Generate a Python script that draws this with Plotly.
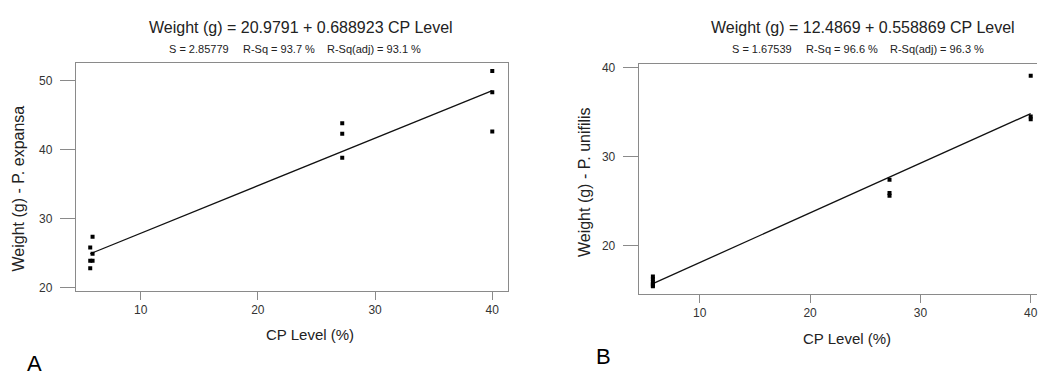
import plotly.graph_objects as go

# ---------------- data ----------------
# Panel A: P. expansa
cp_a = [5.9, 5.7, 5.9, 5.7, 5.9, 5.7, 27.2, 27.2, 27.2, 40.0, 40.0, 40.0]
wt_a = [27.35, 25.8, 24.9, 23.9, 23.9, 22.8, 43.8, 42.3, 38.8, 51.4, 48.3, 42.6]
intercept_a, slope_a = 20.9791, 0.688923
title_a = "Weight (g) = 20.9791 + 0.688923 CP Level"
stats_a = ["S = 2.85779", "R-Sq = 93.7 %", "R-Sq(adj) = 93.1 %"]
ytitle_a = "Weight (g) - P. expansa"

# Panel B: P. unifilis
cp_b = [5.75, 5.75, 5.75, 5.75, 5.75, 5.75, 27.2, 27.2, 27.2, 40.0, 40.0, 40.0]
wt_b = [16.5, 16.2, 15.9, 15.7, 15.5, 15.4, 27.4, 25.9, 25.6, 39.1, 34.5, 34.2]
intercept_b, slope_b = 12.4869, 0.558869
title_b = "Weight (g) = 12.4869 + 0.558869 CP Level"
stats_b = ["S = 1.67539", "R-Sq = 96.6 %", "R-Sq(adj) = 96.3 %"]
ytitle_b = "Weight (g) - P. unifilis"

xtitle = "CP Level (%)"
x_ticks = [10, 20, 30, 40]
y_ticks_a = [20, 30, 40, 50]
y_ticks_b = [20, 30, 40]
panel_labels = ["A", "B"]

# ---------------- layout helpers ----------------
W, H = 1038, 378
def px(x):
    return x / W
def py(y):
    return 1 - y / H

FONT = "Liberation Sans, Arial, sans-serif"
GRAY = "#8a8a8a"
TXT = "#222222"

fig = go.Figure()

def fitted(cp, b0, b1):
    xs = [min(cp), max(cp)]
    return xs, [b0 + b1 * v for v in xs]

for cp, wt, b0, b1, xa, ya in [(cp_a, wt_a, intercept_a, slope_a, "x", "y"),
                               (cp_b, wt_b, intercept_b, slope_b, "x2", "y2")]:
    fx, fy = fitted(cp, b0, b1)
    fig.add_trace(go.Scatter(x=fx, y=fy, mode="lines", xaxis=xa, yaxis=ya,
                             line=dict(color="#111111", width=1.3), showlegend=False))
    fig.add_trace(go.Scatter(x=cp, y=wt, mode="markers", xaxis=xa, yaxis=ya,
                             marker=dict(symbol="square", size=4, color="#000000"),
                             showlegend=False))

axis_common = dict(showgrid=False, zeroline=False, showline=True, linecolor=GRAY,
                   linewidth=1.2, ticks="outside", tickcolor=GRAY,
                   tickfont=dict(family=FONT, size=12, color="#333333"))

fig.update_layout(
    width=W, height=H,
    margin=dict(l=0, r=0, t=0, b=0),
    paper_bgcolor="white", plot_bgcolor="white",
    font=dict(family=FONT, color=TXT),
    xaxis=dict(axis_common, domain=[px(76), px(508)], range=[4.48, 41.3],
               tickvals=x_ticks, ticklen=8, mirror=True, anchor="y"),
    yaxis=dict(axis_common, domain=[py(293), py(61)], range=[19.57, 52.56],
               tickvals=y_ticks_a, ticklen=15, mirror=True, anchor="x",
               ticklabelstandoff=5),
    xaxis2=dict(axis_common, domain=[px(639.5), 1.0], range=[4.48, 40.57],
                tickvals=x_ticks, ticklen=8, mirror=True, anchor="y2",
                ticklabeloverflow="allow"),
    yaxis2=dict(axis_common, domain=[py(296), py(62)], range=[14.59, 40.44],
                tickvals=y_ticks_b, ticklen=15, mirror=False, anchor="x2",
                ticklabelstandoff=5),
)

ann = []
def text(x, y, s, size, anchor="center", angle=0, color=TXT):
    ann.append(dict(x=px(x), y=py(y), xref="paper", yref="paper", text=s,
                    showarrow=False, xanchor=anchor, yanchor="middle",
                    textangle=angle, font=dict(family=FONT, size=size, color=color)))

# titles
text(301, 25, title_a, 16)
text(864, 25, title_b, 16)
# stats lines
for left, stats in [(76, stats_a), (639.5, stats_b)]:
    for off, s in zip([91, 165, 249], stats):
        text(left + off, 46.5, s, 11, anchor="left")
# axis titles
text(310, 338, xtitle, 15)
text(848, 342, xtitle, 15)
text(19, 189, ytitle_a, 16, angle=-90)
text(585, 182, ytitle_b, 16, angle=-90)
# panel letters
text(35, 367, panel_labels[0], 22, color="#000000")
text(604, 360, panel_labels[1], 22, color="#000000")

fig.update_layout(annotations=ann)
fig.write_html("out.html", config={"displayModeBar": False, "staticPlot": True},
               post_script="document.body.style.margin='0';document.body.style.padding='0';document.body.style.overflow='hidden';")
